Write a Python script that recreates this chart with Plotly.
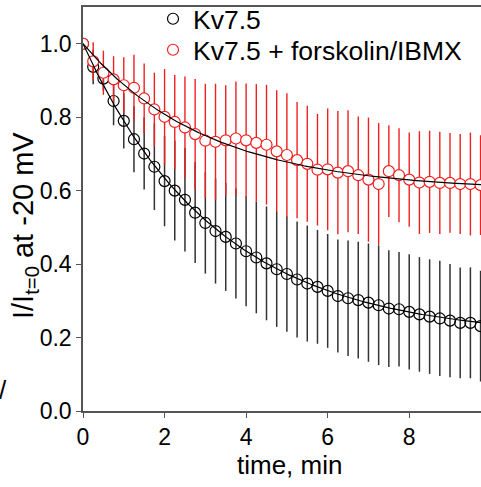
import numpy as np
import plotly.graph_objects as go

# time points (min)
time_min = [0.25 * i for i in range(40)]

# Kv7.5 (control)
kv_mean = [1.000, 0.937, 0.905, 0.844, 0.790, 0.740, 0.701, 0.665, 0.626, 0.600,
           0.575, 0.540, 0.512, 0.490, 0.474, 0.456, 0.435, 0.418, 0.402, 0.386,
           0.373, 0.358, 0.347, 0.338, 0.327, 0.313, 0.307, 0.302, 0.295, 0.288,
           0.279, 0.277, 0.270, 0.263, 0.257, 0.252, 0.246, 0.240, 0.240, 0.231]
kv_err = [0.000, 0.047, 0.033, 0.066, 0.075, 0.090, 0.098, 0.118, 0.123, 0.136,
          0.141, 0.137, 0.138, 0.143, 0.147, 0.150, 0.150, 0.152, 0.155, 0.157,
          0.157, 0.158, 0.158, 0.155, 0.155, 0.154, 0.157, 0.159, 0.161, 0.163,
          0.159, 0.156, 0.157, 0.156, 0.156, 0.157, 0.154, 0.151, 0.151, 0.151]

# Kv7.5 + forskolin/IBMX
fk_mean = [1.000, 0.952, 0.921, 0.903, 0.887, 0.880, 0.851, 0.821, 0.801, 0.787,
           0.772, 0.754, 0.736, 0.733, 0.737, 0.742, 0.737, 0.730, 0.725, 0.707,
           0.697, 0.683, 0.673, 0.657, 0.658, 0.649, 0.653, 0.642, 0.630, 0.618,
           0.653, 0.642, 0.630, 0.622, 0.624, 0.621, 0.621, 0.618, 0.618, 0.615]
fk_err = [0.000, 0.052, 0.060, 0.063, 0.076, 0.090, 0.095, 0.100, 0.130, 0.128,
          0.139, 0.150, 0.155, 0.158, 0.150, 0.155, 0.155, 0.160, 0.163, 0.166,
          0.168, 0.158, 0.158, 0.152, 0.166, 0.168, 0.166, 0.160, 0.169, 0.166,
          0.125, 0.128, 0.128, 0.140, 0.139, 0.139, 0.136, 0.136, 0.140, 0.136]

# single-exponential fit parameters: y = C + (1 - C) * exp(-t / tau)
kv_fit_C, kv_fit_tau = 0.20, 3.27
fk_fit_C, fk_fit_tau = 0.60, 3.05

x_ticks = [0, 2, 4, 6, 8]
y_ticks = [0.0, 0.2, 0.4, 0.6, 0.8, 1.0]

RED = "#f02020"
FONT = "Liberation Sans, Arial, sans-serif"

W, H = 481, 487
ML, MR, MT, MB = 83, 0, 7, 76
PW, PH = W - ML - MR, H - MT - MB


def px_x(px):
    return (px - ML) / PW


def px_y(py):
    return (H - MB - py) / PH


t_fit = np.linspace(0, 10, 300)

fig = go.Figure()

fig.add_trace(go.Scatter(
    x=time_min, y=kv_mean, mode="markers", name="Kv7.5", legend="legend",
    marker=dict(symbol="circle-open", size=11, color="black", line=dict(width=1.2, color="black")),
    error_y=dict(type="data", array=kv_err, visible=True, color="#333333", thickness=1.5, width=0),
))
fig.add_trace(go.Scatter(
    x=time_min, y=fk_mean, mode="markers", name="Kv7.5 + forskolin/IBMX", legend="legend2",
    marker=dict(symbol="circle", size=11, color="white", line=dict(width=1.2, color=RED)),
    error_y=dict(type="data", array=fk_err, visible=True, color=RED, thickness=1.4, width=0),
))
fig.add_trace(go.Scatter(
    x=t_fit, y=kv_fit_C + (1 - kv_fit_C) * np.exp(-t_fit / kv_fit_tau),
    mode="lines", line=dict(color="black", width=1.2), showlegend=False, hoverinfo="skip",
))
fig.add_trace(go.Scatter(
    x=t_fit, y=fk_fit_C + (1 - fk_fit_C) * np.exp(-t_fit / fk_fit_tau),
    mode="lines", line=dict(color="black", width=1.2), showlegend=False, hoverinfo="skip",
))

leg_common = dict(xanchor="left", yanchor="middle", bgcolor="rgba(0,0,0,0)",
                  font=dict(size=26.5), tracegroupgap=0, itemwidth=30)

fig.update_layout(
    width=W, height=H,
    margin=dict(l=ML, r=MR, t=MT, b=MB, autoexpand=False),
    paper_bgcolor="white", plot_bgcolor="white",
    font=dict(family=FONT, size=23, color="black"),
    showlegend=True,
    legend=dict(x=px_x(153), y=px_y(19), **leg_common),
    legend2=dict(x=px_x(153), y=px_y(50), **leg_common),
    xaxis=dict(range=[0, 9.76], tickvals=x_ticks, ticks="outside", ticklen=5, tickwidth=1,
               tickcolor="#555", showline=True, linecolor="#555", linewidth=1.5, mirror=True,
               showgrid=False, zeroline=False, automargin=False),
    yaxis=dict(range=[0, 1.1], tickvals=y_ticks, tickformat=".1f", ticks="outside", ticklen=5,
               tickwidth=1, tickcolor="#555", showline=True, linecolor="#555", linewidth=1.5,
               showgrid=False, zeroline=False, automargin=False),
)

fig.add_annotation(text="time, min", xref="paper", yref="paper", x=px_x(289), y=px_y(465),
                   xanchor="center", yanchor="middle", showarrow=False, font=dict(size=26))
fig.add_annotation(text="I/I<sub>t=0</sub> at -20 mV", xref="paper", yref="paper",
                   x=px_x(25), y=px_y(226), xanchor="center", yanchor="middle",
                   textangle=-90, showarrow=False, font=dict(size=29))
fig.add_annotation(text="/", xref="paper", yref="paper", x=px_x(0), y=px_y(390),
                   xanchor="left", yanchor="middle", xshift=-3, showarrow=False,
                   font=dict(size=26))

fig.write_html("out.html", config={"displayModeBar": False},
               post_script="document.body.style.margin='0';")
